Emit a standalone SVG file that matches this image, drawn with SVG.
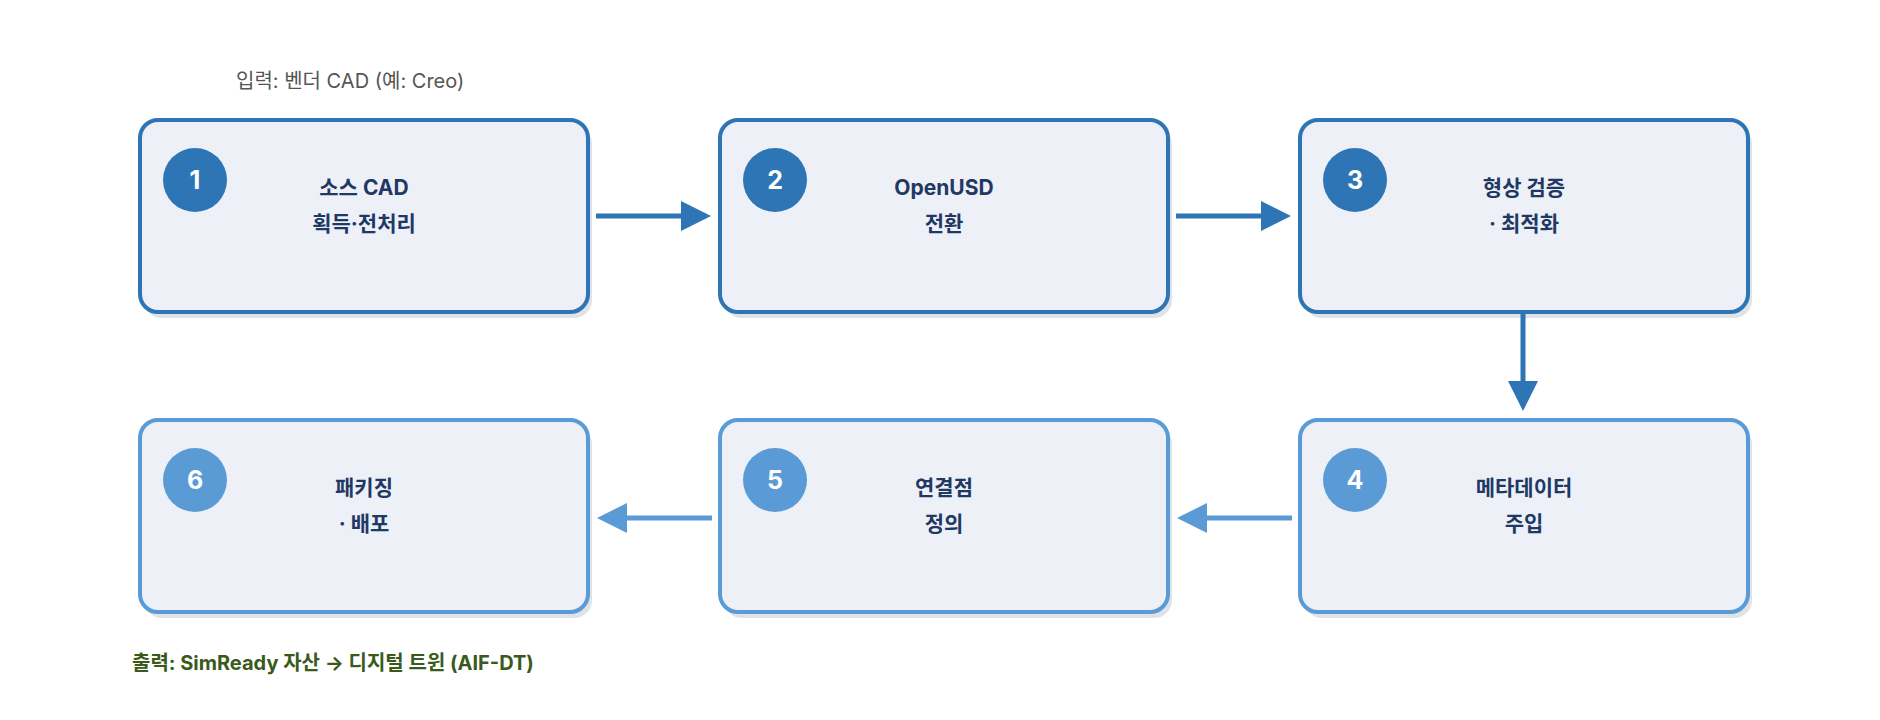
<svg xmlns="http://www.w3.org/2000/svg" width="1880" height="720" viewBox="0 0 1880 720">
<style>
.box{fill:#edf1f7;stroke-width:4}
.d{stroke:#2e75b6}.l{stroke:#5b9bd5}
.sh{fill:#dfe2e7}
.t{font-family:"Inter","Noto Sans CJK KR",sans-serif;font-weight:700;font-size:21px;fill:#1f3864;text-anchor:middle}
.n{font-family:"Inter","Noto Sans CJK KR",sans-serif;font-weight:700;font-size:25px;fill:#fff;text-anchor:middle}
.c{stroke-width:5;fill:none}
</style>
<defs>
<marker id="ad" markerWidth="6" markerHeight="6" refX="3" refY="3" orient="auto" markerUnits="strokeWidth"><path d="M0,0 L6,3 L0,6 z" fill="#2e75b6"/></marker>
<marker id="al" markerWidth="6" markerHeight="6" refX="3" refY="3" orient="auto" markerUnits="strokeWidth"><path d="M0,0 L6,3 L0,6 z" fill="#5b9bd5"/></marker>
</defs>
<rect width="1880" height="720" fill="#fff"/>
<text x="236" y="88" font-family="Inter,'Noto Sans CJK KR',sans-serif" font-size="20" fill="#555">입력: 벤더 CAD (예: Creo)</text>
<g id="n1"><rect class="sh" x="144" y="126" width="448" height="192" rx="18"/><rect class="box d" x="140" y="120" width="448" height="192" rx="18"/><circle cx="195" cy="180" r="32" fill="#2e75b6"/><text class="n" x="195" y="189">1</text><text class="t" x="364" y="195">소스 CAD</text><text class="t" x="364" y="231">획득·전처리</text></g>
<g id="n2"><rect class="sh" x="724" y="126" width="448" height="192" rx="18"/><rect class="box d" x="720" y="120" width="448" height="192" rx="18"/><circle cx="775" cy="180" r="32" fill="#2e75b6"/><text class="n" x="775" y="189">2</text><text class="t" x="944" y="195">OpenUSD</text><text class="t" x="944" y="231">전환</text></g>
<g id="n3"><rect class="sh" x="1304" y="126" width="448" height="192" rx="18"/><rect class="box d" x="1300" y="120" width="448" height="192" rx="18"/><circle cx="1355" cy="180" r="32" fill="#2e75b6"/><text class="n" x="1355" y="189">3</text><text class="t" x="1524" y="195">형상 검증</text><text class="t" x="1524" y="231">· 최적화</text></g>
<g id="n4"><rect class="sh" x="1304" y="426" width="448" height="192" rx="18"/><rect class="box l" x="1300" y="420" width="448" height="192" rx="18"/><circle cx="1355" cy="480" r="32" fill="#5b9bd5"/><text class="n" x="1355" y="489">4</text><text class="t" x="1524" y="495">메타데이터</text><text class="t" x="1524" y="531">주입</text></g>
<g id="n5"><rect class="sh" x="724" y="426" width="448" height="192" rx="18"/><rect class="box l" x="720" y="420" width="448" height="192" rx="18"/><circle cx="775" cy="480" r="32" fill="#5b9bd5"/><text class="n" x="775" y="489">5</text><text class="t" x="944" y="495">연결점</text><text class="t" x="944" y="531">정의</text></g>
<g id="n6"><rect class="sh" x="144" y="426" width="448" height="192" rx="18"/><rect class="box l" x="140" y="420" width="448" height="192" rx="18"/><circle cx="195" cy="480" r="32" fill="#5b9bd5"/><text class="n" x="195" y="489">6</text><text class="t" x="364" y="495">패키징</text><text class="t" x="364" y="531">· 배포</text></g>
<g id="connectors">
<line class="c d" x1="596" y1="216" x2="696" y2="216" marker-end="url(#ad)"/>
<line class="c d" x1="1176" y1="216" x2="1276" y2="216" marker-end="url(#ad)"/>
<line class="c d" x1="1523" y1="314" x2="1523" y2="396" marker-end="url(#ad)"/>
<line class="c l" x1="1292" y1="518" x2="1192" y2="518" marker-end="url(#al)"/>
<line class="c l" x1="712" y1="518" x2="612" y2="518" marker-end="url(#al)"/>
</g>
<text x="132" y="670" font-family="Inter,'Noto Sans CJK KR',sans-serif" font-size="20" font-weight="700" fill="#3a5a1c">출력: SimReady 자산 → 디지털 트윈 (AIF-DT)</text>
</svg>
